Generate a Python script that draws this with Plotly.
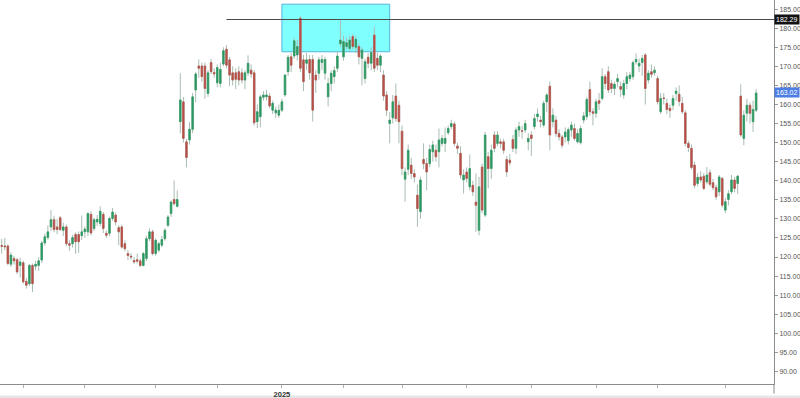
import pandas as pd
import plotly.graph_objects as go

# ---------------- data ----------------
holidays = ["2024-09-02", "2024-11-28", "2024-12-25", "2025-01-01", "2025-01-09",
            "2025-01-20", "2025-02-17", "2025-04-18", "2025-05-26", "2025-06-19", "2025-07-04"]
n_days = 246
dates = [d.strftime("%Y-%m-%d") for d in
         pd.bdate_range("2024-08-22", periods=n_days, freq="C", holidays=holidays)]

open_ = [
    123.0, 122.9, 122.9, 118.1, 119.6, 119.3, 117.8, 118.5, 113.6, 113.0,
    117.8, 117.6, 117.8, 119.2, 123.7, 125.1, 127.9, 129.8, 127.9, 130.3,
    127.0, 127.9, 123.5, 123.5, 125.9, 125.9, 125.6, 126.6, 126.6, 131.2,
    127.5, 129.2, 128.8, 131.2, 126.2, 126.2, 130.1, 131.0, 127.7, 127.9,
    123.5, 120.9, 120.2, 119.1, 119.3, 119.0, 117.8, 119.6, 124.8, 126.6,
    120.9, 121.8, 123.1, 124.8, 128.3, 131.4, 135.1, 133.3, 155.5, 160.7,
    150.2, 150.7, 153.5, 163.8, 170.1, 170.1, 170.1, 162.9, 171.0, 168.4,
    165.7, 165.5, 170.6, 174.5, 171.7, 168.3, 168.3, 168.6, 168.3, 166.4,
    168.3, 169.0, 168.3, 155.5, 156.8, 161.9, 162.0, 162.2, 158.5, 157.8,
    157.2, 158.5, 162.5, 168.6, 172.5, 172.7, 173.0, 182.6, 171.7, 170.8,
    171.8, 171.8, 167.7, 168.2, 171.0, 168.2, 162.0, 165.5, 167.3, 169.5,
    175.9, 172.5, 175.2, 174.7, 177.8, 175.0, 175.2, 172.1, 166.8, 172.4,
    170.8, 178.2, 172.1, 170.3, 167.7, 162.5, 155.0, 156.5, 162.2, 159.8,
    153.0, 140.4, 143.0, 144.1, 141.9, 136.2, 131.9, 145.6, 144.5, 144.5,
    147.6, 148.0, 147.6, 149.8, 149.8, 152.6, 154.2, 154.9, 149.1, 147.2,
    140.2, 142.3, 138.4, 138.8, 134.4, 127.0, 143.6, 131.0, 146.3, 143.2,
    152.0, 149.8, 150.2, 150.2, 145.6, 145.4, 150.8, 148.5, 153.3, 153.1,
    153.3, 150.2, 152.0, 154.2, 156.8, 155.9, 154.6, 160.7, 164.8, 155.5,
    155.9, 152.4, 151.5, 151.5, 150.5, 153.3, 153.7, 150.2, 150.0, 155.9,
    156.8, 163.9, 158.1, 157.7, 161.0, 161.6, 167.3, 168.6, 165.5, 164.2,
    166.0, 164.7, 162.5, 165.5, 166.8, 167.3, 171.2, 170.1, 171.0, 173.0,
    166.4, 168.6, 168.3, 166.8, 158.1, 161.7, 160.3, 159.0, 159.8, 162.9,
    162.7, 160.3, 157.8, 149.8, 148.5, 144.1, 139.3, 141.0, 141.2, 139.7,
    142.1, 139.5, 138.2, 137.1, 140.6, 132.3, 135.1, 137.1, 140.2, 139.3,
    162.2, 151.1, 157.7, 159.8, 155.5, 158.5,
]
high = [
    124.8, 125.0, 123.3, 121.2, 120.3, 119.8, 119.8, 119.0, 114.5, 118.2,
    118.3, 119.0, 120.0, 124.2, 126.2, 128.3, 132.3, 130.8, 130.0, 130.7,
    129.0, 128.5, 124.4, 125.8, 126.5, 126.7, 130.9, 128.0, 131.8, 132.0,
    130.3, 131.0, 133.3, 131.8, 127.0, 130.6, 132.9, 131.7, 128.3, 128.5,
    124.4, 121.8, 121.0, 120.0, 120.9, 119.6, 121.3, 125.6, 127.5, 127.2,
    124.9, 124.0, 125.5, 127.6, 131.0, 134.9, 140.1, 137.5, 168.2, 162.0,
    151.0, 155.4, 163.0, 168.5, 171.8, 171.0, 171.0, 169.0, 172.0, 169.5,
    170.5, 171.0, 175.0, 175.6, 172.5, 170.0, 169.5, 170.0, 169.5, 169.0,
    172.9, 170.5, 169.0, 160.0, 162.5, 163.5, 163.8, 163.0, 161.0, 159.5,
    160.0, 161.5, 168.0, 173.0, 173.5, 177.5, 177.0, 183.2, 173.0, 173.5,
    173.0, 173.0, 169.0, 172.5, 173.0, 172.5, 167.0, 169.0, 170.0, 174.0,
    182.29, 178.0, 177.5, 178.0, 178.5, 178.0, 176.0, 175.0, 172.0, 173.5,
    175.0, 180.4, 173.5, 173.2, 169.0, 163.5, 158.0, 162.5, 165.5, 161.0,
    154.5, 143.5, 149.5, 146.0, 143.0, 139.0, 141.0, 149.8, 146.0, 149.5,
    150.5, 149.5, 153.7, 152.0, 154.0, 154.5, 156.0, 155.5, 150.0, 149.0,
    143.0, 143.5, 146.9, 140.0, 141.9, 141.0, 144.5, 152.8, 147.5, 149.5,
    153.0, 153.0, 151.0, 151.0, 146.5, 147.0, 152.0, 154.0, 155.5, 154.5,
    156.0, 152.5, 153.0, 157.5, 159.0, 157.0, 161.0, 163.0, 166.0, 159.0,
    157.0, 153.5, 152.0, 154.0, 154.0, 155.5, 155.0, 153.5, 154.5, 158.0,
    162.0, 166.0, 159.0, 161.5, 163.0, 169.5, 168.0, 170.0, 166.5, 166.0,
    168.0, 166.0, 166.5, 168.5, 168.5, 171.5, 173.4, 172.0, 173.0, 173.5,
    169.0, 170.5, 170.0, 167.5, 163.0, 163.0, 161.5, 160.0, 162.5, 164.5,
    165.0, 162.0, 158.5, 150.5, 149.5, 145.0, 142.0, 142.5, 142.0, 143.6,
    143.0, 140.5, 139.0, 141.5, 141.0, 135.5, 137.5, 141.5, 141.0, 141.5,
    165.3, 158.5, 161.5, 160.5, 161.0, 164.0,
]
low = [
    120.9, 121.8, 117.8, 117.4, 118.0, 115.5, 114.6, 113.0, 111.7, 112.4,
    110.8, 116.5, 116.3, 118.4, 123.0, 124.5, 126.8, 126.5, 126.0, 126.8,
    125.5, 122.8, 121.6, 122.5, 120.8, 121.1, 124.5, 125.0, 125.5, 125.7,
    126.8, 128.2, 128.0, 126.3, 125.0, 125.4, 129.5, 128.3, 123.1, 122.2,
    121.5, 119.2, 119.3, 118.2, 118.3, 117.4, 117.5, 118.9, 124.2, 120.4,
    120.3, 121.2, 122.6, 124.3, 127.8, 130.5, 133.5, 133.0, 152.4, 150.0,
    143.5, 149.5, 152.5, 160.5, 167.0, 166.0, 161.5, 162.0, 168.0, 167.0,
    164.5, 164.5, 170.0, 169.5, 164.8, 165.0, 164.0, 165.0, 165.5, 164.0,
    167.5, 167.0, 154.5, 153.8, 154.0, 161.0, 161.0, 159.0, 157.5, 156.5,
    156.5, 158.0, 162.0, 167.5, 168.5, 172.0, 171.5, 168.5, 163.5, 169.0,
    166.5, 155.5, 163.0, 166.5, 169.0, 166.5, 159.5, 163.5, 165.5, 168.5,
    175.0, 171.5, 174.5, 174.0, 174.5, 173.5, 170.5, 165.0, 165.5, 169.5,
    169.0, 168.5, 169.0, 168.5, 161.0, 157.0, 149.8, 155.0, 155.5, 149.8,
    141.5, 134.5, 141.5, 140.5, 139.5, 127.9, 130.0, 143.0, 137.5, 143.5,
    145.0, 145.0, 143.5, 149.0, 147.5, 152.0, 153.5, 149.0, 147.0, 140.5,
    136.6, 139.5, 137.5, 136.0, 126.6, 125.7, 131.5, 130.5, 138.0, 140.5,
    147.5, 149.0, 148.5, 147.0, 141.0, 144.0, 147.5, 147.0, 151.5, 151.0,
    152.5, 148.0, 146.5, 153.5, 155.5, 154.0, 154.0, 158.0, 148.0, 154.0,
    151.5, 150.5, 148.5, 150.0, 149.5, 151.5, 150.5, 149.8, 149.5, 155.0,
    156.0, 157.0, 154.5, 156.5, 158.5, 161.0, 164.0, 163.0, 163.0, 162.5,
    164.5, 162.0, 161.5, 164.0, 166.0, 166.5, 170.5, 168.5, 167.5, 160.0,
    165.5, 167.0, 167.5, 160.0, 157.5, 160.0, 157.5, 156.5, 158.5, 161.0,
    159.5, 157.5, 149.0, 147.5, 143.0, 138.0, 138.5, 139.5, 137.5, 139.0,
    138.5, 137.5, 135.0, 136.0, 133.0, 131.5, 133.5, 136.5, 137.0, 136.5,
    151.5, 149.3, 155.5, 155.0, 152.8, 158.0,
]
close = [
    122.8, 122.7, 118.3, 120.5, 119.0, 116.1, 118.7, 113.5, 112.6, 117.8,
    113.0, 118.1, 119.0, 123.7, 125.3, 126.6, 129.8, 127.2, 127.2, 127.2,
    127.9, 123.5, 123.1, 125.1, 124.0, 124.0, 126.6, 127.3, 131.4, 126.3,
    129.8, 129.9, 132.0, 127.5, 125.7, 130.1, 131.8, 129.2, 126.6, 122.6,
    122.2, 120.4, 120.0, 118.7, 118.9, 117.8, 120.9, 124.8, 126.6, 120.9,
    124.4, 123.5, 124.6, 127.0, 130.5, 134.4, 134.0, 135.1, 161.2, 151.1,
    146.1, 153.5, 162.0, 168.0, 169.5, 167.3, 164.2, 168.3, 168.6, 168.0,
    169.7, 169.2, 174.1, 170.3, 167.7, 166.4, 166.6, 166.4, 166.4, 168.3,
    170.8, 168.0, 155.2, 158.1, 162.0, 162.5, 162.5, 159.6, 160.3, 158.5,
    158.5, 160.7, 167.7, 172.4, 170.3, 176.7, 175.2, 169.5, 166.0, 171.7,
    168.3, 158.5, 166.4, 171.7, 171.8, 171.8, 165.5, 168.2, 168.9, 172.7,
    176.9, 176.5, 176.2, 176.9, 175.2, 177.1, 172.5, 174.3, 171.2, 170.8,
    173.6, 169.5, 170.3, 172.7, 162.2, 158.5, 155.9, 160.7, 156.3, 155.5,
    143.2, 142.3, 148.0, 141.9, 141.0, 132.7, 140.2, 144.5, 142.3, 148.2,
    149.4, 146.3, 150.7, 151.1, 151.1, 153.7, 155.0, 149.8, 148.5, 141.5,
    141.5, 140.6, 143.2, 137.1, 133.6, 138.4, 132.3, 152.0, 143.2, 148.0,
    148.5, 152.0, 149.8, 148.0, 142.3, 144.7, 148.5, 153.3, 154.2, 153.0,
    155.0, 151.1, 151.1, 156.3, 157.5, 155.5, 160.3, 162.5, 152.0, 157.2,
    152.4, 151.5, 149.3, 152.8, 153.4, 154.6, 151.1, 152.4, 153.7, 157.0,
    161.3, 158.1, 157.7, 160.7, 160.3, 167.3, 165.5, 163.8, 164.2, 165.3,
    166.8, 164.0, 165.5, 167.3, 167.7, 171.0, 171.8, 170.8, 172.1, 164.2,
    168.2, 167.9, 169.0, 160.7, 161.6, 161.6, 158.7, 158.4, 161.6, 163.5,
    160.8, 158.1, 149.8, 148.7, 143.5, 138.8, 140.9, 140.2, 138.0, 141.5,
    139.1, 138.2, 135.8, 141.0, 133.6, 134.5, 136.6, 140.2, 138.0, 141.2,
    152.0, 157.2, 159.8, 157.7, 158.7, 163.02,
]

level_price = 182.29
level_start = dates[73]
zone_start, zone_end = dates[91], dates[126]
zone_low, zone_high = 173.83, 186.3
last_price = close[-1]

# month tick marks (first trading day of each month)
tick_vals, tick_text = [], []
for i in range(1, len(dates)):
    if dates[i][5:7] != dates[i - 1][5:7]:
        tick_vals.append(dates[i])
        tick_text.append("<b>2025</b>" if dates[i][5:7] == "01" else "")

GREEN = "#2a9a62"
RED = "#bb4d47"
WICK = "#a9bdb2"

body_hi = [max(o, c) for o, c in zip(open_, close)]
body_lo = [min(o, c) for o, c in zip(open_, close)]

fig = go.Figure()
# wicks
fig.add_trace(go.Candlestick(
    x=dates, open=open_, high=high, low=low, close=close,
    increasing=dict(line=dict(color=WICK, width=1), fillcolor=WICK),
    decreasing=dict(line=dict(color=WICK, width=1), fillcolor=WICK),
    hoverinfo="skip", showlegend=False,
))
# bodies
fig.add_trace(go.Candlestick(
    x=dates, open=open_, high=body_hi, low=body_lo, close=close,
    increasing=dict(line=dict(color=GREEN, width=0.6), fillcolor=GREEN),
    decreasing=dict(line=dict(color=RED, width=0.6), fillcolor=RED),
    showlegend=False,
))

n = len(dates)
fig.add_shape(type="rect", xref="x", yref="y", x0=zone_start, x1=zone_end,
              y0=zone_low, y1=zone_high, fillcolor="#80ffff",
              line=dict(color="#56b4dc", width=1), layer="below")
fig.add_shape(type="line", xref="x", yref="y", x0=level_start, x1=n + 5,
              y0=level_price, y1=level_price, line=dict(color="#4a4a4a", width=1))
fig.add_shape(type="rect", xref="paper", yref="paper", x0=-0.01, x1=1.05,
              y0=-0.03, y1=-0.06, fillcolor="#e6e6e6", line=dict(width=0), layer="below")
# price-scale border continues a little below the time axis
fig.add_shape(type="line", xref="paper", yref="paper", x0=1, x1=1,
              y0=0, y1=-0.025, line=dict(color="#8c8c8c", width=1))

fig.add_annotation(x=1, xref="paper", xanchor="left", xshift=0, y=level_price, yref="y",
                   text=f"{level_price:.2f}", showarrow=False, bgcolor="#111111",
                   font=dict(color="white", size=7), borderpad=1)
fig.add_annotation(x=1, xref="paper", xanchor="left", xshift=0, y=last_price, yref="y",
                   text=f"{last_price:.2f}", showarrow=False, bgcolor="#4d7fe3",
                   font=dict(color="white", size=7), borderpad=1)

fig.update_layout(
    width=800, height=398,
    margin=dict(l=0, r=26, t=0, b=14),
    paper_bgcolor="white", plot_bgcolor="white",
    showlegend=False,
    font=dict(family="Liberation Sans, Arial, sans-serif", size=7, color="#444"),
    boxmode="overlay",
)
fig.update_xaxes(
    type="category", range=[-0.55, 250.8], rangeslider_visible=False,
    showgrid=False, zeroline=False, showline=True, linecolor="#8c8c8c", linewidth=1,
    ticks="outside", ticklen=3, tickcolor="#b0b0b0",
    tickvals=tick_vals, ticktext=tick_text,
    tickfont=dict(size=7.5, color="#333"),
)
fig.update_yaxes(
    side="right", range=[86.7, 187.4], tick0=0, dtick=5, tickformat=".2f",
    showgrid=False, zeroline=False, showline=True, linecolor="#8c8c8c", linewidth=1,
    ticks="outside", ticklen=3, tickcolor="#999",
    tickfont=dict(size=7, color="#555"),
)

fig.write_html("out.html")
